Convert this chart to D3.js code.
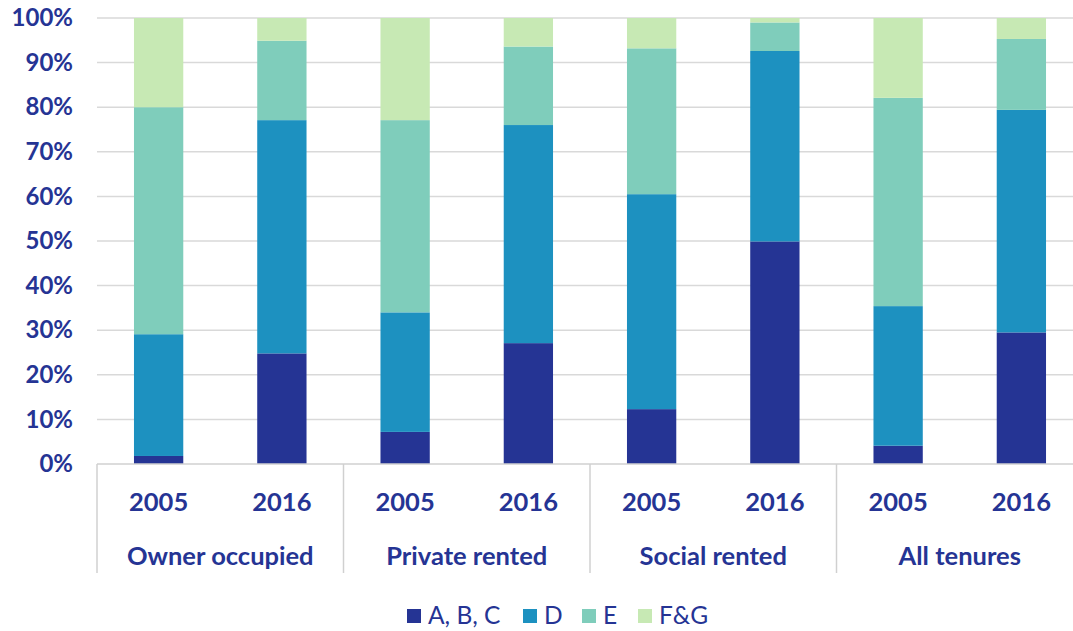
<!DOCTYPE html>
<html>
<head>
<meta charset="utf-8">
<script src="https://cdn.jsdelivr.net/npm/d3@7"></script>
<style>
  body { margin: 0; background: #fff; }
  text { font-family: Lato, "Open Sans", sans-serif; fill: #253494; }
</style>
</head>
<body>
<svg width="1073" height="631"></svg>
<script>
// data (percent)
const groups = ["Owner occupied", "Private rented", "Social rented", "All tenures"];
const years = ["2005", "2016"];
const bands = ["A, B, C", "D", "E", "F&G"];
const abc = [1.8, 24.8, 7.2, 27.1, 12.3, 49.9, 4.1, 29.5];
const d = [27.3, 52.3, 26.8, 48.9, 48.2, 42.7, 31.3, 49.9];
const e = [50.9, 17.8, 43.1, 17.6, 32.7, 6.4, 46.7, 15.9];
const fg = [20.0, 5.1, 22.9, 6.4, 6.8, 1.0, 17.9, 4.7];
const yTicks = [0, 10, 20, 30, 40, 50, 60, 70, 80, 90, 100];

const colors = ["#253494", "#1d91c0", "#7fcdbb", "#c7e9b4"];

// build rows for the stack
const rows = [];
groups.forEach((g, gi) => {
  years.forEach((yr, yi) => {
    const i = gi * 2 + yi;
    rows.push({ key: g + "|" + yr, group: g, year: yr,
      "A, B, C": abc[i], "D": d[i], "E": e[i], "F&G": fg[i] });
  });
});

const svg = d3.select("svg");
const plotL = 97, plotR = 1083, plotT = 18, plotB = 464;

const x = d3.scaleBand()
  .domain(rows.map(r => r.key))
  .range([plotL, plotR])
  .paddingInner(0.6)
  .paddingOuter(0.3);

const xg = d3.scaleBand().domain(groups).range([plotL, plotR]);

const y = d3.scaleLinear().domain([0, 100]).range([plotB, plotT]);

// gridlines
svg.append("g")
  .selectAll("line")
  .data(yTicks.filter(t => t > 0))
  .enter()
  .append("line")
  .attr("x1", plotL).attr("x2", 1073)
  .attr("y1", t => y(t)).attr("y2", t => y(t))
  .attr("stroke", "#d9d9d9")
  .attr("stroke-width", 1.5);

// y axis labels
const yAxis = svg.append("g")
  .attr("transform", "translate(73,0)")
  .call(d3.axisLeft(y).tickValues(yTicks).tickFormat(t => t + "%").tickSize(0).tickPadding(0));
yAxis.select(".domain").remove();
yAxis.selectAll("text")
  .style("font-size", "24px")
  .style("font-weight", "bold")
  .attr("fill", "#253494");

// stacked bars
const stack = d3.stack().keys(bands);
const series = stack(rows);

svg.append("g")
  .selectAll("g")
  .data(series)
  .enter()
  .append("g")
  .attr("fill", (s, i) => colors[i])
  .selectAll("rect")
  .data(s => s)
  .enter()
  .append("rect")
  .attr("x", p => x(p.data.key))
  .attr("width", x.bandwidth())
  .attr("y", p => y(p[1]))
  .attr("height", p => y(p[0]) - y(p[1]));

// category axis: baseline and group separators
const axisCol = "#d0d0d0";
svg.append("line")
  .attr("x1", plotL).attr("x2", 1073)
  .attr("y1", plotB).attr("y2", plotB)
  .attr("stroke", axisCol).attr("stroke-width", 1.5);

svg.append("g")
  .selectAll("line")
  .data(groups)
  .enter()
  .append("line")
  .attr("x1", g => xg(g)).attr("x2", g => xg(g))
  .attr("y1", plotB).attr("y2", 573)
  .attr("stroke", axisCol).attr("stroke-width", 1.5);

// year labels
svg.append("g")
  .selectAll("text")
  .data(rows)
  .enter()
  .append("text")
  .attr("x", r => x(r.key) + x.bandwidth() / 2)
  .attr("y", 511)
  .attr("text-anchor", "middle")
  .style("font-size", "25.5px")
  .style("font-weight", "bold")
  .text(r => r.year);

// group labels
svg.append("g")
  .selectAll("text")
  .data(groups)
  .enter()
  .append("text")
  .attr("x", g => xg(g) + xg.bandwidth() / 2)
  .attr("y", 565)
  .attr("text-anchor", "middle")
  .style("font-size", "25.5px")
  .style("font-weight", "bold")
  .text(g => g);

// legend
const legX = [407, 523, 582, 638];
const leg = svg.append("g")
  .selectAll("g")
  .data(bands)
  .enter()
  .append("g")
  .attr("transform", (b, i) => `translate(${legX[i]},609)`);
leg.append("rect")
  .attr("width", 14).attr("height", 14)
  .attr("fill", (b, i) => colors[i]);
leg.append("text")
  .attr("x", 21).attr("y", 15)
  .style("font-size", "24.5px")
  .text(b => b);
</script>
</body>
</html>
